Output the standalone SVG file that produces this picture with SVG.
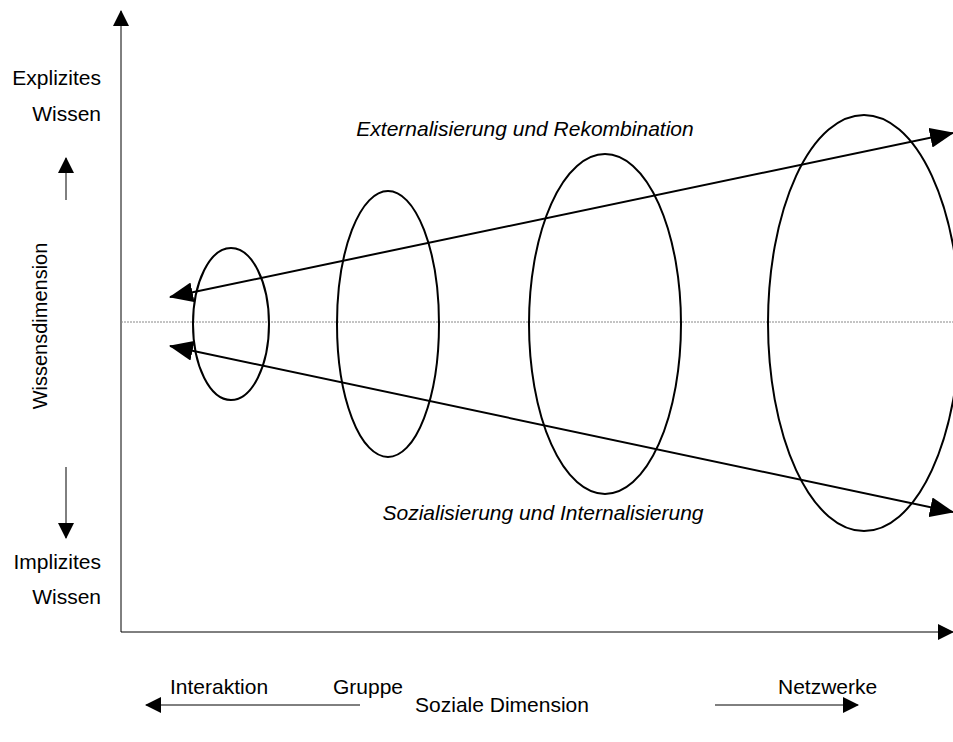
<svg xmlns="http://www.w3.org/2000/svg" width="953" height="742" viewBox="0 0 953 742">
<style>
text{font-family:"Liberation Sans",Arial,sans-serif;font-size:21px;fill:#000}
.it{font-style:italic}
.el{fill:none;stroke:#000;stroke-width:2}
.ln{stroke:#000;stroke-width:2;fill:none}
.thin{stroke:#000;stroke-width:1;fill:none}
</style>
<defs>
<marker id="ahL" markerWidth="24" markerHeight="20" refX="23" refY="10" orient="auto-start-reverse" markerUnits="userSpaceOnUse" viewBox="0 0 24 20">
<path d="M0,0 L24,10 L0,20 z" fill="#000"/>
</marker>
<marker id="ahS" markerWidth="16" markerHeight="16" refX="15" refY="8" orient="auto-start-reverse" markerUnits="userSpaceOnUse" viewBox="0 0 16 16">
<path d="M0,0 L16,8 L0,16 z" fill="#000"/>
</marker>
</defs>
<rect width="953" height="742" fill="#fff"/>
<g id="axes">
<line class="thin" x1="121" y1="632" x2="121" y2="11" marker-end="url(#ahS)"/>
<line class="thin" x1="121" y1="632" x2="953" y2="632" marker-end="url(#ahS)"/>
<line x1="121" y1="322" x2="953" y2="322" stroke="#888" stroke-width="1" stroke-dasharray="2,1"/>
</g>
<g id="ellipse1"><ellipse class="el" cx="231" cy="324" rx="38" ry="76"/></g>
<g id="ellipse2"><ellipse class="el" cx="388" cy="324" rx="51" ry="133"/></g>
<g id="ellipse3"><ellipse class="el" cx="605" cy="324" rx="76" ry="170"/></g>
<g id="ellipse4"><ellipse class="el" cx="864" cy="323" rx="96" ry="208"/></g>
<g id="connectors">
<line class="ln" x1="170" y1="297" x2="953" y2="133" marker-start="url(#ahL)" marker-end="url(#ahL)"/>
<line class="ln" x1="170" y1="346" x2="953" y2="512" marker-start="url(#ahL)" marker-end="url(#ahL)"/>
<line class="thin" x1="66" y1="200" x2="66" y2="158" marker-end="url(#ahS)"/>
<line class="thin" x1="66" y1="467" x2="66" y2="538" marker-end="url(#ahS)"/>
<line class="thin" x1="360" y1="705" x2="146" y2="705" marker-end="url(#ahS)"/>
<line class="thin" x1="715" y1="705" x2="858" y2="705" marker-end="url(#ahS)"/>
</g>
<g id="labels">
<text class="it" x="525" y="136" text-anchor="middle">Externalisierung und Rekombination</text>
<text class="it" x="543" y="520" text-anchor="middle">Sozialisierung und Internalisierung</text>
<text x="101" y="85" text-anchor="end">Explizites</text>
<text x="101" y="121" text-anchor="end">Wissen</text>
<text x="101" y="569" text-anchor="end">Implizites</text>
<text x="101" y="604" text-anchor="end">Wissen</text>
<text transform="translate(47,326) rotate(-90)" text-anchor="middle" style="font-size:20px">Wissensdimension</text>
<text x="170" y="694">Interaktion</text>
<text x="333" y="694">Gruppe</text>
<text x="778" y="694">Netzwerke</text>
<text x="502" y="712" text-anchor="middle">Soziale Dimension</text>
</g>
</svg>
